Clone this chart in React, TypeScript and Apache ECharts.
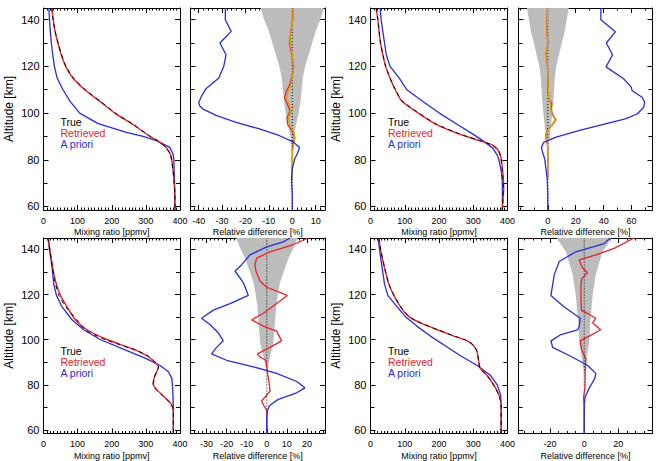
import React, { useEffect, useRef } from "react";
import * as echarts from "echarts";

type Pt = [number, number]; // [value, altitude km]

const FONT = '"Liberation Sans", Arial, Helvetica, sans-serif';
const BLUE = "#2a2ade";
const RED = "#e8222a";
const GOLD = "#d8a600";
const GRAY = "#bcbcbc";

const ALT_MIN = 58.5;
const ALT_MAX = 145;
const altLabels = [60, 80, 100, 120, 140];
const altMinor = [70, 90, 110, 130];

const mixLabels = [0, 100, 200, 300, 400];
const p2Labels = [-40, -30, -20, -10, 0, 10];
const p4Labels = [0, 20, 40, 60];
const p6Labels = [-30, -20, -10, 0, 10, 20];
const p8Labels = [-20, 0, 20];

const legendItems = ["True", "Retrieved", "A priori"];

// ---------- Panel 1 (top-left) mixing ratio ----------
const p1True: Pt[] = [[24, 145], [28, 140], [34, 135], [43, 130], [53, 125], [66, 120], [88, 115], [123, 110], [167, 105], [211, 100], [265, 95], [313, 90], [337, 88], [360, 85], [372, 82], [375, 80], [380, 75], [383, 70], [385, 65], [385, 58.5]];
const p1Retrieved: Pt[] = [[24.5, 145], [28.5, 140], [34, 135], [42, 130], [52, 125], [65, 120], [86, 115], [121, 110], [165, 105], [209, 100], [263, 95], [312, 90], [336, 88], [361, 85], [373, 82], [376, 80], [380, 75], [383, 70], [385, 65], [385, 58.5]];
const p1Apriori: Pt[] = [[15.6, 145], [17.6, 140], [20, 135], [23, 130], [27, 125], [32, 120], [40, 115], [57, 110], [78, 105], [106, 100], [160, 95.5], [243, 91.7], [292, 90], [331, 88.2], [370, 85.3], [380, 82.4], [382, 80], [384, 70], [385, 60], [385, 58.5]];

// ---------- Panel 2 (top) relative difference ----------
const p2Apriori: Pt[] = [[-28.6, 145], [-28.6, 140], [-26.1, 135], [-30.9, 130], [-28.3, 125], [-29.3, 120], [-31.4, 115], [-36.9, 110.4], [-38.6, 107.6], [-40, 104.5], [-39.5, 103], [-38.3, 101.8], [-32.6, 99], [-24, 96], [-14, 93.2], [-5.4, 90.3], [0.3, 87.7], [3.1, 85.3], [2.4, 83.1], [1, 80.2], [0, 76], [-0.3, 72], [0, 65], [0, 58.5]];
const p2Retrieved: Pt[] = [[0.3, 145], [0.2, 140], [-0.6, 135], [-1.1, 130], [-0.2, 125], [0.6, 120], [0, 116], [-1.1, 112], [-2.6, 109], [-3.3, 106.5], [-1.9, 103.5], [-0.9, 100.8], [-2.3, 98], [-1.9, 95], [0.3, 92], [1, 89.5], [0.3, 86.5], [0, 84], [0, 75], [0, 72]];
const p2Smoothed: Pt[] = [[0.3, 145], [0.3, 140], [-0.5, 135], [-0.8, 130], [0, 125], [0.7, 120], [0.2, 116], [-0.6, 112], [-1.8, 109], [-2.4, 106.5], [-1.2, 103.5], [-0.5, 100.8], [-1.6, 98], [-1.2, 95], [0.6, 92], [1.2, 89.5], [0.5, 86.5], [0.2, 84], [0, 75], [0, 72]];
const p2Noise: Pt[] = [[13.5, 145], [12, 140], [10, 135], [8.5, 130], [7, 125], [5.5, 120], [4.5, 115], [4, 110], [3.5, 105], [2.8, 100], [1.6, 95], [0.8, 90], [0.3, 85], [0, 82]];

// ---------- Panel 3 (top) mixing ratio ----------
const p3True: Pt[] = [[17, 145], [21.5, 140], [25.5, 135], [29.5, 130], [36, 125], [44.5, 120], [57, 115], [73, 110], [91, 105.4], [135, 100.6], [192, 95.3], [262, 91], [319, 88.2], [355, 86.3], [373, 83.8], [380, 81], [385, 75.2], [388, 68], [386, 61], [385, 58.5]];
const p3Retrieved: Pt[] = [[16.5, 145], [21.4, 140], [25, 135], [29, 130], [36, 125], [44, 120], [57, 115], [72, 110], [90, 105.4], [133, 100.6], [190, 95.3], [260, 91], [318, 88.2], [357, 86.3], [374.5, 83.8], [381, 81], [386, 75.2], [389, 68], [386, 61], [385, 58.5]];
const p3Apriori: Pt[] = [[28, 145], [31, 140], [36, 135], [41, 130], [46, 125], [57, 120], [84, 115], [106, 110], [153, 105], [201, 100], [255, 95], [299, 91], [330, 88], [357, 85], [370, 82], [375, 80], [382, 75], [385, 70], [385, 58.5]];

// ---------- Panel 4 (top) relative difference ----------
const p4Apriori: Pt[] = [[38, 145], [38, 140], [48.4, 134.8], [41.9, 130], [46.4, 125], [41.7, 119.8], [54.3, 114.7], [59.8, 111.1], [60.3, 109.7], [67.5, 106.8], [69.4, 104.7], [68.7, 102.5], [64, 99.6], [55.5, 97.5], [41.2, 95.4], [22.1, 92.5], [5.4, 89.6], [-2.9, 87.5], [-4.6, 85.3], [-3.7, 83.1], [-2.2, 80.3], [-1.3, 75.9], [-0.4, 71.6], [0, 65], [0, 58.5]];
const p4Retrieved: Pt[] = [[-0.3, 145], [-0.5, 140], [-0.7, 134.4], [0, 130], [-1.2, 125.5], [-0.2, 120], [0, 114.5], [0.6, 106.5], [2.9, 104], [2.2, 102], [3.4, 99.3], [5.8, 97.2], [3.2, 95], [0, 92.8], [-1.5, 90.6], [-1, 88.4], [0, 85.5], [0, 78], [0, 72]];
const p4Smoothed: Pt[] = [[-0.3, 145], [-0.4, 140], [-0.6, 134.4], [0.1, 130], [-1, 125.5], [-0.1, 120], [0.1, 114.5], [0.6, 106.5], [2, 104], [2, 102], [3, 99.3], [5.3, 97.2], [2.9, 95], [0.2, 92.8], [-1.3, 90.6], [-0.8, 88.4], [0, 85.5], [0, 78], [0, 72]];
const p4Noise: Pt[] = [[15, 145], [13.5, 140], [12, 134.5], [10, 130], [8, 125], [6, 120], [5, 115], [4.5, 110], [4, 105.5], [3.2, 100], [2.3, 95], [1.4, 90], [0.6, 87], [0, 84]];

// ---------- Panel 5 (bottom-left) mixing ratio ----------
const p5True: Pt[] = [[13.8, 145], [18.5, 140], [26, 131.8], [33, 126], [45, 119.6], [66, 114.5], [98, 108.8], [122, 104.4], [180, 100.1], [262, 95.8], [306, 92.9], [328, 90], [337, 87.9], [331, 85.8], [323, 82.9], [321, 80.1], [330, 77.9], [350, 75.1], [370, 72.2], [378.6, 70], [380.5, 67], [380.5, 58.5]];
const p5Retrieved: Pt[] = [[13.6, 145], [18.5, 140], [27.3, 131.8], [35, 126], [49.6, 119.6], [69, 114.5], [93.4, 108.8], [127.5, 104.4], [186, 100.1], [264, 95.8], [302.6, 92.9], [327, 90], [336.7, 87.9], [331.8, 85.8], [324, 82.9], [322, 80.1], [331.8, 77.9], [351, 75.1], [370.8, 72.2], [378.6, 70], [380.5, 67], [380.5, 58.5]];
const p5Apriori: Pt[] = [[13.6, 145], [17.5, 140], [21.5, 136], [25.3, 131.8], [30, 124.6], [38, 119.6], [54.4, 114.5], [83.6, 108.8], [117.7, 104.4], [166, 100.1], [234, 95.8], [302.6, 91.5], [341.6, 88.6], [366, 85.8], [376, 82.9], [378.6, 78.6], [380.5, 70], [380.5, 58.5]];

// ---------- Panel 6 (bottom) relative difference ----------
const p6Apriori: Pt[] = [[11.6, 145], [8.2, 143.3], [0, 141.1], [-8.4, 137.5], [-12.5, 133.2], [-15.8, 130.4], [-11.7, 125.3], [-9.2, 119.6], [-18.3, 116], [-26.6, 113.1], [-32.5, 109.5], [-28.3, 106.7], [-24.2, 103.1], [-21.7, 99.5], [-25, 96.6], [-27.5, 93.7], [-20, 90.9], [-6.7, 88], [4.9, 85.1], [14.9, 81.5], [19, 78.7], [14.9, 76.5], [5.7, 73.6], [1.3, 70.8], [0.3, 68.6], [0, 65], [0, 58.5]];
const p6Retrieved: Pt[] = [[20.7, 145], [12.4, 141.8], [1.6, 138.9], [-5, 136.1], [-5.9, 133.2], [-5.4, 130.4], [-3.4, 126], [0, 123.2], [10.2, 119.6], [4.9, 116], [-1.7, 111.7], [-7.5, 108.8], [-1.7, 106], [4.9, 103.8], [7.4, 99.5], [1.6, 96.6], [-4.7, 93.7], [-3.4, 92.3], [-0.4, 90.9], [0.3, 85.8], [1.3, 80.1], [1.6, 77.2], [-0.4, 75.1], [-2.6, 72.9], [-1.4, 70.8], [0, 68.6], [0, 58.5]];
const p6Noise: Pt[] = [[15.3, 145], [13, 140], [10.8, 136], [8, 129], [6.5, 125], [5.5, 120], [4.6, 114], [4.1, 107.4], [3.3, 98.8], [1.8, 93], [0.7, 88.7], [0, 85.8]];

// ---------- Panel 7 (bottom) mixing ratio ----------
const p7True: Pt[] = [[24.5, 145], [29.5, 140], [41.5, 131.8], [54, 124.6], [69, 119.6], [88.5, 114.5], [113, 110.2], [147, 107.4], [196, 104.4], [245, 101.6], [283, 99.5], [303, 97.2], [312, 94.4], [316, 90.1], [320, 87.2], [339, 84.3], [359, 80], [374, 75.7], [381.5, 71.4], [381.5, 58.5]];
const p7Retrieved: Pt[] = [[24.3, 145], [29.2, 140], [40.9, 131.8], [53.5, 124.6], [68, 119.6], [87.6, 114.5], [112, 110.2], [146, 107.4], [194.7, 104.4], [243.4, 101.6], [282.4, 99.5], [302, 97.2], [311.4, 94.4], [316.3, 90.1], [321, 87.2], [340.6, 84.3], [360, 80], [374.6, 75.7], [381.5, 71.4], [381.5, 58.5]];
const p7Apriori: Pt[] = [[22.4, 145], [26.3, 140], [30, 136], [34, 131.8], [40.9, 124.6], [50.6, 119.6], [77.9, 114.5], [102, 110.2], [136, 105.9], [175, 101.6], [219, 97.2], [262.8, 92.9], [311.4, 88.6], [350, 84.3], [370, 80], [379.6, 75.7], [381.5, 70], [381.5, 58.5]];

// ---------- Panel 8 (bottom) relative difference ----------
const p8Apriori: Pt[] = [[15.2, 145], [11.7, 142.5], [-4.9, 138.9], [-14.6, 134.6], [-17.5, 128.9], [-19.5, 119.6], [-11.7, 114.5], [-2.3, 109.5], [-2.9, 105.9], [-3.9, 104.4], [-13.6, 102.3], [-19.5, 99.5], [-18.5, 96.6], [-8.8, 93], [1.9, 88.7], [6.8, 85.1], [6.2, 82.9], [2.9, 78.6], [0.4, 74.3], [0, 70], [0, 58.5]];
const p8Retrieved: Pt[] = [[29.2, 145], [17.5, 140.4], [6.8, 137.5], [-2.9, 135.3], [-1.9, 133.2], [-1, 131.8], [1.9, 129.6], [-1.6, 126.8], [-1.9, 123.2], [-1.9, 117.5], [-1.6, 113.1], [6.8, 109.5], [4.9, 107.4], [9.7, 104.4], [2.9, 101.6], [-2.3, 99.5], [-1.6, 95.8], [1, 91.5], [0.6, 85.8], [0.4, 78.6], [-0.4, 74.3], [0, 70], [0, 58.5]];
const p8Noise: Pt[] = [[16, 145], [13, 141.5], [10.7, 138.9], [6.8, 128.9], [4.9, 119.6], [3.5, 107.4], [2.9, 98.8], [1.6, 93], [0.8, 88.7], [0, 85]];

function stepTicks(from: number, to: number, step: number): number[] {
  const out: number[] = [];
  for (let v = from; v <= to + 1e-9; v += step) out.push(Math.round(v * 100) / 100);
  return out;
}

type Panel = {
  box: [number, number, number, number];
  kind: "mix" | "diff";
  xMin: number;
  xMax: number;
  xLabels: number[];
  xMinor: number[];
  xName: string;
  yLabels: boolean;
  legendAt?: [number, number];
  truth?: Pt[];
  retrieved: Pt[];
  apriori: Pt[];
  smoothed?: Pt[];
  noise?: Pt[];
};

const TOP1 = 8, H1 = 202;
const TOP2 = 238, H2 = 202;
const C1 = [43.5, 136.5], C2 = [190.5, 134.5], C3 = [370.5, 137], C4 = [518.5, 134];

const panels: Panel[] = [
  { box: [C1[0], TOP1, C1[1], H1], kind: "mix", xMin: 0, xMax: 400, xLabels: mixLabels, xMinor: stepTicks(0, 400, 10), xName: "Mixing ratio [ppmv]", yLabels: true, legendAt: [60.5, 122], truth: p1True, retrieved: p1Retrieved, apriori: p1Apriori },
  { box: [C2[0], TOP1, C2[1], H1], kind: "diff", xMin: -43.5, xMax: 14, xLabels: p2Labels, xMinor: stepTicks(-42, 14, 2), xName: "Relative difference [%]", yLabels: false, retrieved: p2Retrieved, smoothed: p2Smoothed, apriori: p2Apriori, noise: p2Noise },
  { box: [C3[0], TOP1, C3[1], H1], kind: "mix", xMin: 0, xMax: 400, xLabels: mixLabels, xMinor: stepTicks(0, 400, 10), xName: "Mixing ratio [ppmv]", yLabels: true, legendAt: [388, 122], truth: p3True, retrieved: p3Retrieved, apriori: p3Apriori },
  { box: [C4[0], TOP1, C4[1], H1], kind: "diff", xMin: -21, xMax: 75, xLabels: p4Labels, xMinor: stepTicks(-20, 70, 10), xName: "Relative difference [%]", yLabels: false, retrieved: p4Retrieved, smoothed: p4Smoothed, apriori: p4Apriori, noise: p4Noise },
  { box: [C1[0], TOP2, C1[1], H2], kind: "mix", xMin: 0, xMax: 400, xLabels: mixLabels, xMinor: stepTicks(0, 400, 10), xName: "Mixing ratio [ppmv]", yLabels: true, legendAt: [60.5, 351], truth: p5True, retrieved: p5Retrieved, apriori: p5Apriori },
  { box: [C2[0], TOP2, C2[1], H2], kind: "diff", xMin: -38, xMax: 29, xLabels: p6Labels, xMinor: stepTicks(-38, 28, 2), xName: "Relative difference [%]", yLabels: false, retrieved: p6Retrieved, apriori: p6Apriori, noise: p6Noise },
  { box: [C3[0], TOP2, C3[1], H2], kind: "mix", xMin: 0, xMax: 400, xLabels: mixLabels, xMinor: stepTicks(0, 400, 10), xName: "Mixing ratio [ppmv]", yLabels: true, legendAt: [388, 351], truth: p7True, retrieved: p7Retrieved, apriori: p7Apriori },
  { box: [C4[0], TOP2, C4[1], H2], kind: "diff", xMin: -38.5, xMax: 40, xLabels: p8Labels, xMinor: stepTicks(-35, 40, 5), xName: "Relative difference [%]", yLabels: false, retrieved: p8Retrieved, apriori: p8Apriori, noise: p8Noise },
];

function buildOption() {
  const grid: any[] = [];
  const xAxis: any[] = [];
  const yAxis: any[] = [];
  const series: any[] = [];
  const graphic: any[] = [];
  const black = { color: "#000", width: 1 };

  panels.forEach((p, i) => {
    grid.push({ left: p.box[0], top: p.box[1], width: p.box[2], height: p.box[3], containLabel: false });
    const xi = xAxis.length;
    const xb = { type: "value", gridIndex: i, min: p.xMin, max: p.xMax, splitLine: { show: false } };
    xAxis.push({
      ...xb, position: "bottom",
      axisLine: { show: true, onZero: false, lineStyle: black },
      axisTick: { show: true, inside: true, length: 5, customValues: p.xLabels, lineStyle: black },
      axisLabel: { show: true, customValues: p.xLabels, color: "#000", fontSize: 9, fontFamily: FONT, margin: 6 },
      name: p.xName, nameLocation: "middle", nameGap: 17.5,
      nameTextStyle: { color: "#000", fontSize: 9, fontFamily: FONT },
    });
    xAxis.push({ ...xb, position: "bottom", axisLine: { show: false, onZero: false }, axisTick: { show: true, inside: true, length: 2.5, customValues: p.xMinor, lineStyle: black }, axisLabel: { show: false } });
    xAxis.push({ ...xb, position: "top", axisLine: { show: true, onZero: false, lineStyle: black }, axisTick: { show: true, inside: true, length: 5, customValues: p.xLabels, lineStyle: black }, axisLabel: { show: false } });
    xAxis.push({ ...xb, position: "top", axisLine: { show: false, onZero: false }, axisTick: { show: true, inside: true, length: 2.5, customValues: p.xMinor, lineStyle: black }, axisLabel: { show: false } });

    const yi = yAxis.length;
    const yb = { type: "value", gridIndex: i, min: ALT_MIN, max: ALT_MAX, splitLine: { show: false } };
    yAxis.push({
      ...yb, position: "left",
      axisLine: { show: true, onZero: false, lineStyle: black },
      axisTick: { show: true, inside: true, length: 5, customValues: altLabels, lineStyle: black },
      axisLabel: { show: p.yLabels, customValues: altLabels, color: "#000", fontSize: 11, fontFamily: FONT, margin: 4 },
      name: p.yLabels ? "Altitude [km]" : "", nameLocation: "middle", nameGap: 29,
      nameTextStyle: { color: "#000", fontSize: 12, fontFamily: FONT },
    });
    yAxis.push({ ...yb, position: "left", axisLine: { show: false, onZero: false }, axisTick: { show: true, inside: true, length: 4, customValues: altMinor, lineStyle: black }, axisLabel: { show: false } });
    yAxis.push({ ...yb, position: "right", axisLine: { show: true, onZero: false, lineStyle: black }, axisTick: { show: true, inside: true, length: 5, customValues: altLabels, lineStyle: black }, axisLabel: { show: false } });
    yAxis.push({ ...yb, position: "right", axisLine: { show: false, onZero: false }, axisTick: { show: true, inside: true, length: 4, customValues: altMinor, lineStyle: black }, axisLabel: { show: false } });

    const line = (data: Pt[], color: string, width: number, z: number, extra: any = {}) => ({
      type: "line", xAxisIndex: xi, yAxisIndex: yi, data, symbol: "none", showSymbol: false,
      silent: true, z, lineStyle: { color, width, ...(extra.lineStyle || {}) }, smooth: extra.smooth || false,
    });

    if (p.kind === "mix") {
      series.push(line(p.apriori, BLUE, 1.3, 3));
      series.push(line(p.retrieved, RED, 1.4, 4, { smooth: 0.2 }));
      series.push(line(p.truth!, "#000", 1, 5, { smooth: 0.2, lineStyle: { type: [4, 4] } }));
      if (p.legendAt) {
        const colors = ["#000", RED, BLUE];
        legendItems.forEach((t, k) => {
          graphic.push({
            type: "text", x: p.legendAt![0], y: p.legendAt![1] + k * 11, silent: true, z: 10,
            style: { text: t, fill: colors[k], fontSize: 10.5, fontFamily: FONT, verticalAlign: "middle", align: "left" },
          });
        });
      }
    } else {
      const env = p.noise!;
      series.push({
        type: "custom", xAxisIndex: xi, yAxisIndex: yi, data: env, silent: true, z: 1,
        encode: { x: 0, y: 1 },
        renderItem: (params: any, api: any) => {
          if (params.dataIndex !== 0) return null;
          const right = env.map(([h, a]) => api.coord([h, a]));
          const left = env.slice().reverse().map(([h, a]) => api.coord([-h, a]));
          return { type: "polygon", shape: { points: right.concat(left) }, style: { fill: GRAY, stroke: null } };
        },
      });
      series.push(line([[0, ALT_MIN], [0, ALT_MAX]], "#000", 1, 2, { lineStyle: { type: [1, 2] } }));
      series.push(line(p.retrieved, RED, 1.3, 3));
      if (p.smoothed) series.push(line(p.smoothed, GOLD, 1.3, 4));
      series.push(line(p.apriori, BLUE, 1.3, 5));
    }
  });

  return { animation: false, backgroundColor: "#fff", grid, xAxis, yAxis, series, graphic };
}

export default function App() {
  const ref = useRef<HTMLDivElement>(null);
  useEffect(() => {
    document.body.style.margin = "0";
    if (!ref.current) return;
    const chart = echarts.init(ref.current, undefined, { renderer: "svg" });
    chart.setOption(buildOption() as any);
    return () => chart.dispose();
  }, []);
  return <div ref={ref} style={{ width: 656, height: 461, background: "#fff" }} />;
}
